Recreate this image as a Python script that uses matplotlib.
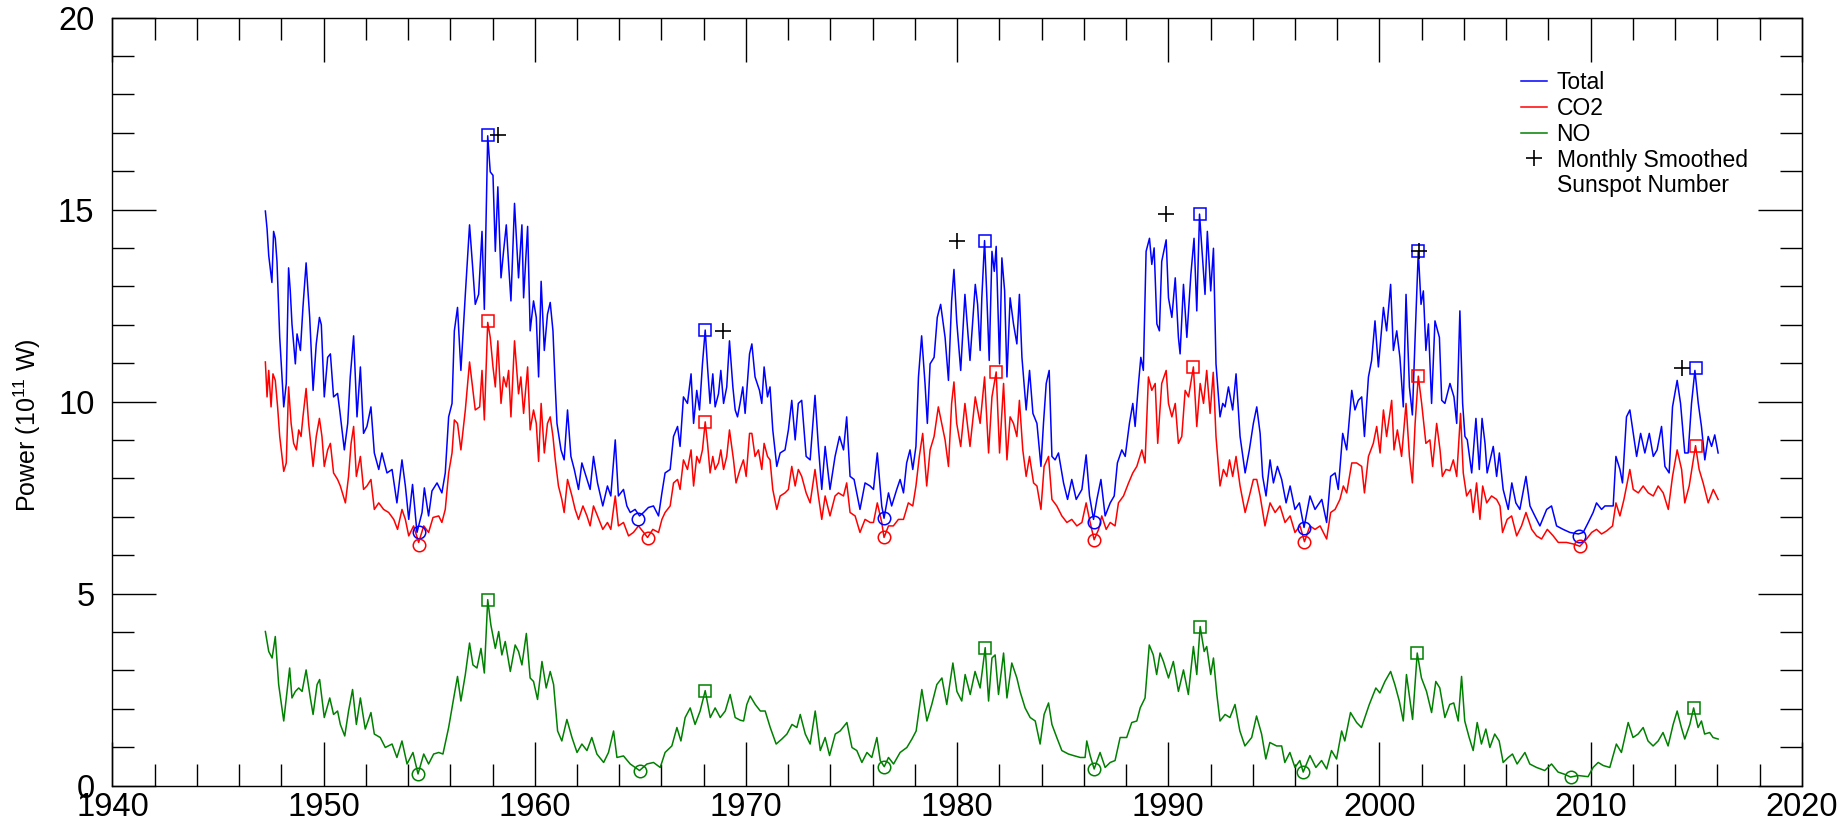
import numpy as np
import matplotlib.pyplot as plt
from matplotlib.lines import Line2D
from matplotlib.ticker import MultipleLocator

plt.rcParams['font.family'] = ['Liberation Sans', 'DejaVu Sans']
plt.rcParams['mathtext.default'] = 'regular'

# (year, power in 1e11 W)
total = np.array([
    [1947.24, 14.96], [1947.32, 14.50], [1947.40, 13.80], [1947.55, 13.10], [1947.63, 14.43],
    [1947.71, 14.25], [1947.79, 13.65], [1947.92, 11.67], [1948.11, 9.86], [1948.23, 10.47],
    [1948.34, 13.48], [1948.42, 12.88], [1948.50, 12.02], [1948.66, 10.98], [1948.74, 11.76],
    [1948.90, 11.33], [1949.02, 12.45], [1949.17, 13.61], [1949.34, 12.19], [1949.50, 10.29],
    [1949.65, 11.50], [1949.80, 12.19], [1949.89, 12.00], [1950.03, 10.12], [1950.19, 11.15],
    [1950.32, 11.24], [1950.47, 10.12], [1950.66, 10.21], [1950.76, 9.78], [1950.98, 8.74],
    [1951.14, 9.43], [1951.26, 10.64], [1951.42, 11.71], [1951.58, 9.60], [1951.74, 10.90],
    [1951.89, 9.17], [1952.05, 9.35], [1952.24, 9.86], [1952.40, 8.66], [1952.61, 8.23],
    [1952.76, 8.66], [1953.00, 8.14], [1953.24, 8.23], [1953.47, 7.36], [1953.71, 8.48],
    [1953.87, 7.80], [1954.03, 6.93], [1954.21, 7.84], [1954.42, 6.59], [1954.66, 7.11],
    [1954.77, 7.75], [1954.97, 7.02], [1955.13, 7.67], [1955.37, 7.88], [1955.60, 7.62],
    [1955.76, 8.14], [1955.92, 9.60], [1956.08, 9.95], [1956.19, 11.84], [1956.34, 12.45],
    [1956.50, 10.81], [1956.71, 12.79], [1956.91, 14.60], [1957.07, 13.40], [1957.18, 12.53],
    [1957.34, 12.79], [1957.50, 14.43], [1957.61, 12.40], [1957.77, 16.92], [1957.89, 15.98],
    [1958.02, 15.89], [1958.13, 13.91], [1958.25, 15.59], [1958.40, 13.22], [1958.52, 13.91],
    [1958.65, 14.60], [1958.76, 13.57], [1958.87, 12.62], [1959.04, 15.16], [1959.23, 13.22],
    [1959.39, 14.60], [1959.47, 12.70], [1959.66, 14.56], [1959.78, 11.84], [1959.94, 12.62],
    [1960.07, 12.19], [1960.18, 10.64], [1960.30, 13.13], [1960.45, 11.33], [1960.60, 12.27],
    [1960.73, 12.58], [1960.86, 11.84], [1960.97, 10.38], [1961.05, 9.43], [1961.24, 8.74],
    [1961.39, 8.48], [1961.55, 9.78], [1961.71, 8.57], [1961.87, 8.23], [1962.07, 7.71],
    [1962.23, 8.40], [1962.47, 7.97], [1962.62, 7.71], [1962.78, 8.57], [1962.97, 7.88],
    [1963.22, 7.28], [1963.44, 7.80], [1963.60, 7.54], [1963.81, 9.00], [1963.96, 7.54],
    [1964.20, 7.71], [1964.36, 7.28], [1964.52, 7.11], [1964.75, 7.19], [1964.96, 7.02],
    [1965.15, 7.11], [1965.38, 7.24], [1965.62, 7.28], [1965.86, 7.02], [1966.02, 7.62],
    [1966.17, 8.14], [1966.41, 8.23], [1966.57, 9.09], [1966.76, 9.35], [1966.88, 8.83],
    [1967.04, 10.12], [1967.23, 9.95], [1967.40, 10.72], [1967.52, 9.43], [1967.67, 10.29],
    [1967.80, 9.78], [1967.94, 10.98], [1968.07, 11.86], [1968.18, 10.90], [1968.30, 9.95],
    [1968.43, 10.72], [1968.54, 9.86], [1968.70, 10.20], [1968.81, 10.81], [1968.94, 9.95],
    [1969.09, 10.38], [1969.22, 11.58], [1969.38, 10.38], [1969.49, 9.78], [1969.60, 9.60],
    [1969.72, 9.95], [1969.85, 10.38], [1969.96, 9.69], [1970.17, 11.24], [1970.28, 11.50],
    [1970.43, 10.64], [1970.64, 10.29], [1970.75, 9.95], [1970.86, 10.90], [1971.02, 10.12],
    [1971.14, 10.38], [1971.27, 9.26], [1971.46, 8.31], [1971.62, 8.66], [1971.85, 8.74],
    [1972.01, 9.26], [1972.17, 10.03], [1972.33, 9.00], [1972.48, 9.95], [1972.64, 10.03],
    [1972.85, 8.57], [1973.04, 8.48], [1973.27, 10.16], [1973.43, 8.83], [1973.59, 7.71],
    [1973.75, 8.83], [1973.98, 7.71], [1974.22, 8.57], [1974.43, 9.09], [1974.62, 8.74],
    [1974.77, 9.60], [1974.93, 8.05], [1975.12, 7.97], [1975.40, 7.19], [1975.64, 7.88],
    [1975.88, 7.80], [1976.04, 7.71], [1976.22, 8.66], [1976.43, 7.28], [1976.54, 6.96],
    [1976.75, 7.62], [1976.90, 7.28], [1977.14, 7.71], [1977.30, 7.97], [1977.46, 7.62],
    [1977.61, 8.40], [1977.77, 8.74], [1977.90, 8.23], [1978.05, 8.83], [1978.17, 10.64],
    [1978.32, 11.71], [1978.48, 10.47], [1978.59, 9.43], [1978.72, 10.98], [1978.91, 11.15],
    [1979.06, 12.19], [1979.22, 12.53], [1979.43, 11.67], [1979.59, 10.55], [1979.74, 12.62],
    [1979.85, 13.44], [1979.98, 12.10], [1980.17, 10.81], [1980.37, 12.79], [1980.61, 11.07],
    [1980.86, 13.05], [1980.97, 12.53], [1981.09, 11.33], [1981.17, 12.70], [1981.30, 14.19],
    [1981.41, 12.70], [1981.52, 11.07], [1981.65, 13.91], [1981.76, 13.39], [1981.85, 14.04],
    [1982.01, 10.98], [1982.12, 13.74], [1982.25, 12.88], [1982.36, 10.64], [1982.51, 12.70],
    [1982.67, 12.02], [1982.83, 11.50], [1982.95, 12.79], [1983.07, 11.15], [1983.27, 9.78],
    [1983.43, 10.81], [1983.59, 9.69], [1983.78, 9.43], [1983.97, 8.31], [1984.09, 9.43],
    [1984.22, 10.47], [1984.36, 10.81], [1984.49, 8.57], [1984.64, 8.48], [1984.80, 8.66],
    [1985.04, 7.88], [1985.23, 7.45], [1985.43, 7.97], [1985.64, 7.45], [1985.91, 7.71],
    [1986.11, 8.61], [1986.27, 7.54], [1986.46, 6.93], [1986.62, 7.45], [1986.81, 7.97],
    [1987.01, 7.02], [1987.25, 7.36], [1987.44, 7.54], [1987.59, 8.40], [1987.80, 8.74],
    [1987.96, 8.57], [1988.16, 9.43], [1988.32, 9.95], [1988.43, 9.35], [1988.59, 10.47],
    [1988.70, 11.15], [1988.82, 10.81], [1988.95, 13.91], [1989.11, 14.25], [1989.22, 13.57],
    [1989.33, 14.00], [1989.46, 12.02], [1989.58, 11.84], [1989.69, 13.65], [1989.90, 14.21],
    [1990.01, 12.70], [1990.17, 12.19], [1990.33, 13.22], [1990.48, 11.67], [1990.56, 11.24],
    [1990.72, 13.05], [1990.88, 11.67], [1991.07, 13.31], [1991.22, 14.25], [1991.35, 12.36],
    [1991.48, 14.88], [1991.62, 13.74], [1991.74, 12.79], [1991.85, 14.43], [1992.01, 12.88],
    [1992.14, 13.99], [1992.26, 10.98], [1992.45, 9.60], [1992.58, 9.95], [1992.69, 9.86],
    [1992.85, 10.38], [1993.05, 9.78], [1993.21, 10.72], [1993.40, 9.09], [1993.64, 8.14],
    [1993.84, 8.74], [1994.03, 9.43], [1994.19, 9.86], [1994.35, 9.17], [1994.47, 8.05],
    [1994.63, 7.54], [1994.82, 8.48], [1994.98, 7.88], [1995.17, 8.31], [1995.37, 7.97],
    [1995.58, 7.36], [1995.77, 7.80], [1996.00, 7.19], [1996.21, 7.36], [1996.43, 6.72],
    [1996.71, 7.54], [1996.95, 7.19], [1997.27, 7.45], [1997.50, 6.85], [1997.69, 8.05],
    [1997.90, 8.14], [1998.05, 7.71], [1998.26, 9.17], [1998.45, 8.74], [1998.69, 10.29],
    [1998.84, 9.78], [1999.00, 10.03], [1999.16, 10.12], [1999.29, 9.09], [1999.48, 10.64],
    [1999.63, 11.07], [1999.79, 12.10], [1999.95, 10.90], [2000.19, 12.45], [2000.34, 11.84],
    [2000.53, 13.05], [2000.66, 11.33], [2000.82, 11.84], [2000.97, 11.15], [2001.13, 9.86],
    [2001.26, 12.79], [2001.42, 10.38], [2001.56, 9.65], [2001.69, 11.67], [2001.84, 13.91],
    [2001.97, 12.53], [2002.08, 12.88], [2002.20, 11.33], [2002.32, 12.02], [2002.47, 9.95],
    [2002.63, 12.10], [2002.84, 11.67], [2002.95, 10.03], [2003.10, 9.95], [2003.34, 10.47],
    [2003.53, 10.12], [2003.66, 9.43], [2003.81, 12.36], [2003.94, 9.95], [2004.05, 9.09],
    [2004.16, 9.00], [2004.37, 8.14], [2004.57, 9.56], [2004.73, 8.23], [2004.86, 9.56],
    [2005.00, 8.91], [2005.10, 8.14], [2005.39, 8.83], [2005.55, 8.05], [2005.68, 8.66],
    [2005.86, 7.71], [2006.10, 7.19], [2006.27, 7.88], [2006.46, 7.36], [2006.65, 7.19],
    [2006.94, 8.05], [2007.13, 7.28], [2007.36, 7.02], [2007.60, 6.76], [2007.92, 7.19],
    [2008.15, 7.28], [2008.39, 6.76], [2008.70, 6.67], [2009.02, 6.59], [2009.42, 6.55],
    [2009.65, 6.59], [2009.89, 6.85], [2010.12, 7.11], [2010.28, 7.36], [2010.52, 7.19],
    [2010.68, 7.28], [2010.91, 7.28], [2011.07, 7.28], [2011.20, 8.57], [2011.39, 8.23],
    [2011.51, 7.88], [2011.70, 9.60], [2011.86, 9.78], [2012.02, 9.17], [2012.18, 8.57],
    [2012.37, 9.17], [2012.57, 8.66], [2012.78, 9.17], [2012.97, 8.57], [2013.15, 8.74],
    [2013.36, 9.35], [2013.52, 8.31], [2013.72, 8.14], [2013.88, 9.86], [2014.10, 10.55],
    [2014.26, 9.95], [2014.46, 8.66], [2014.62, 8.66], [2014.78, 9.95], [2014.94, 10.81],
    [2015.10, 9.95], [2015.25, 9.35], [2015.41, 8.48], [2015.57, 9.09], [2015.73, 8.83],
    [2015.88, 9.13], [2016.04, 8.66],
])

co2 = np.array([
    [1947.24, 11.03], [1947.32, 10.12], [1947.40, 10.81], [1947.51, 9.86], [1947.60, 10.72],
    [1947.71, 10.55], [1947.82, 9.86], [1947.92, 9.09], [1948.11, 8.18], [1948.23, 8.40],
    [1948.34, 10.38], [1948.46, 9.43], [1948.58, 8.91], [1948.71, 8.74], [1948.82, 9.26],
    [1948.93, 9.09], [1949.02, 9.60], [1949.17, 10.34], [1949.29, 9.43], [1949.50, 8.31],
    [1949.65, 9.09], [1949.80, 9.56], [1949.92, 9.09], [1950.03, 8.31], [1950.19, 8.74],
    [1950.32, 8.91], [1950.47, 8.14], [1950.66, 7.97], [1950.79, 7.80], [1951.03, 7.36],
    [1951.18, 8.05], [1951.30, 8.91], [1951.42, 9.35], [1951.55, 8.05], [1951.74, 8.57],
    [1951.89, 7.71], [1952.05, 7.80], [1952.24, 7.97], [1952.40, 7.19], [1952.61, 7.36],
    [1952.84, 7.19], [1953.08, 7.11], [1953.32, 6.93], [1953.50, 6.67], [1953.71, 7.19],
    [1953.87, 6.93], [1954.03, 6.50], [1954.26, 6.76], [1954.50, 6.33], [1954.74, 6.76],
    [1954.97, 6.59], [1955.18, 6.98], [1955.45, 7.02], [1955.60, 6.85], [1955.76, 7.19],
    [1955.92, 8.14], [1956.08, 8.66], [1956.19, 9.52], [1956.34, 9.43], [1956.50, 8.74],
    [1956.71, 9.78], [1956.91, 11.03], [1957.07, 10.29], [1957.18, 9.78], [1957.39, 9.86],
    [1957.50, 10.81], [1957.61, 9.52], [1957.77, 12.06], [1957.89, 11.67], [1958.02, 10.90],
    [1958.13, 10.38], [1958.25, 11.58], [1958.40, 9.95], [1958.52, 10.64], [1958.65, 10.38],
    [1958.76, 10.81], [1958.87, 9.60], [1959.04, 11.58], [1959.23, 10.20], [1959.34, 10.64],
    [1959.47, 9.69], [1959.66, 10.90], [1959.78, 9.26], [1959.94, 9.78], [1960.07, 9.43],
    [1960.18, 8.44], [1960.30, 9.95], [1960.45, 8.66], [1960.60, 9.43], [1960.73, 9.60],
    [1960.86, 9.09], [1960.97, 8.48], [1961.12, 7.80], [1961.28, 7.45], [1961.39, 7.11],
    [1961.55, 7.97], [1961.76, 7.54], [1961.91, 7.19], [1962.07, 6.93], [1962.28, 7.28],
    [1962.47, 7.02], [1962.62, 6.76], [1962.78, 7.28], [1962.97, 7.02], [1963.22, 6.67],
    [1963.44, 6.85], [1963.60, 6.67], [1963.81, 7.54], [1963.96, 6.76], [1964.20, 6.85],
    [1964.44, 6.50], [1964.67, 6.59], [1964.91, 6.76], [1965.15, 6.59], [1965.34, 6.46],
    [1965.59, 6.67], [1965.86, 6.59], [1966.02, 6.93], [1966.17, 7.11], [1966.41, 7.28],
    [1966.57, 7.88], [1966.76, 7.97], [1966.88, 7.71], [1967.04, 8.48], [1967.23, 8.23],
    [1967.40, 8.74], [1967.52, 7.80], [1967.67, 8.57], [1967.80, 8.40], [1967.94, 8.74],
    [1968.07, 9.47], [1968.18, 8.91], [1968.30, 8.14], [1968.43, 8.57], [1968.54, 8.23],
    [1968.70, 8.40], [1968.81, 8.74], [1968.94, 8.23], [1969.09, 8.57], [1969.22, 9.26],
    [1969.41, 8.48], [1969.53, 7.88], [1969.72, 8.23], [1969.88, 8.48], [1970.01, 8.05],
    [1970.17, 9.17], [1970.28, 9.17], [1970.43, 8.57], [1970.59, 8.74], [1970.75, 8.23],
    [1970.86, 8.91], [1971.02, 8.57], [1971.14, 8.48], [1971.27, 7.71], [1971.46, 7.19],
    [1971.62, 7.54], [1971.85, 7.62], [1972.01, 7.71], [1972.17, 8.31], [1972.33, 7.80],
    [1972.48, 8.23], [1972.64, 8.05], [1972.85, 7.62], [1973.04, 7.36], [1973.27, 8.23],
    [1973.43, 7.54], [1973.59, 6.93], [1973.75, 7.54], [1973.98, 7.02], [1974.22, 7.54],
    [1974.38, 7.62], [1974.62, 7.54], [1974.77, 7.88], [1974.93, 7.11], [1975.17, 7.02],
    [1975.40, 6.59], [1975.64, 6.93], [1975.88, 6.85], [1976.04, 6.85], [1976.22, 7.36],
    [1976.43, 6.85], [1976.54, 6.46], [1976.75, 6.76], [1976.98, 6.76], [1977.22, 6.93],
    [1977.46, 6.93], [1977.69, 7.36], [1977.90, 7.28], [1978.05, 7.80], [1978.21, 8.57],
    [1978.37, 9.17], [1978.56, 7.80], [1978.72, 8.74], [1978.91, 9.09], [1979.11, 9.86],
    [1979.27, 9.43], [1979.43, 9.00], [1979.59, 8.31], [1979.74, 9.95], [1979.85, 10.51],
    [1979.98, 9.43], [1980.17, 8.83], [1980.37, 9.95], [1980.61, 8.83], [1980.86, 10.12],
    [1981.09, 9.43], [1981.30, 10.64], [1981.49, 8.66], [1981.65, 10.12], [1981.85, 10.77],
    [1982.01, 8.66], [1982.20, 10.47], [1982.36, 8.48], [1982.51, 9.60], [1982.67, 9.43],
    [1982.83, 9.09], [1982.95, 10.03], [1983.11, 8.74], [1983.27, 8.05], [1983.43, 8.57],
    [1983.62, 7.88], [1983.78, 7.80], [1983.97, 7.19], [1984.12, 8.31], [1984.33, 8.57],
    [1984.49, 7.45], [1984.72, 7.28], [1984.96, 7.02], [1985.20, 6.85], [1985.43, 6.93],
    [1985.67, 6.76], [1985.91, 6.85], [1986.11, 7.36], [1986.30, 6.85], [1986.49, 6.40],
    [1986.70, 6.67], [1986.85, 7.02], [1987.06, 6.67], [1987.25, 6.85], [1987.48, 6.76],
    [1987.64, 7.36], [1987.88, 7.54], [1988.12, 7.88], [1988.32, 8.14], [1988.51, 8.31],
    [1988.75, 8.74], [1988.90, 8.40], [1989.06, 10.64], [1989.22, 10.29], [1989.38, 10.47],
    [1989.50, 8.91], [1989.69, 10.47], [1989.90, 10.81], [1990.01, 9.95], [1990.17, 9.60],
    [1990.33, 9.95], [1990.48, 8.91], [1990.64, 9.09], [1990.80, 10.29], [1990.96, 10.12],
    [1991.19, 10.90], [1991.35, 9.35], [1991.51, 10.47], [1991.67, 9.95], [1991.82, 10.81],
    [1991.98, 9.69], [1992.13, 10.76], [1992.26, 9.09], [1992.45, 7.80], [1992.61, 8.23],
    [1992.77, 8.05], [1992.90, 8.48], [1993.05, 8.05], [1993.21, 8.57], [1993.40, 7.80],
    [1993.64, 7.11], [1993.84, 7.54], [1994.03, 7.97], [1994.19, 7.97], [1994.35, 7.54],
    [1994.58, 6.76], [1994.82, 7.36], [1995.06, 7.11], [1995.29, 7.28], [1995.53, 6.85],
    [1995.77, 7.02], [1996.00, 6.59], [1996.24, 6.76], [1996.45, 6.35], [1996.71, 6.76],
    [1996.95, 6.67], [1997.19, 6.76], [1997.50, 6.42], [1997.69, 7.11], [1997.90, 7.19],
    [1998.13, 7.45], [1998.29, 7.80], [1998.45, 7.62], [1998.69, 8.40], [1998.92, 8.40],
    [1999.16, 8.31], [1999.29, 7.62], [1999.48, 8.57], [1999.71, 8.91], [1999.87, 9.35],
    [2000.03, 8.66], [2000.19, 9.78], [2000.34, 9.09], [2000.58, 10.03], [2000.69, 8.74],
    [2000.85, 9.26], [2001.05, 8.57], [2001.26, 9.95], [2001.42, 8.57], [2001.56, 7.88],
    [2001.69, 9.43], [2001.84, 10.66], [2002.00, 9.95], [2002.20, 8.91], [2002.39, 9.00],
    [2002.52, 8.31], [2002.71, 9.43], [2002.87, 8.74], [2002.98, 8.05], [2003.15, 8.23],
    [2003.34, 8.20], [2003.50, 8.48], [2003.66, 8.05], [2003.84, 9.69], [2003.97, 8.14],
    [2004.13, 7.54], [2004.32, 7.71], [2004.44, 7.11], [2004.60, 7.88], [2004.76, 6.93],
    [2004.89, 7.80], [2005.08, 7.36], [2005.31, 7.54], [2005.55, 7.45], [2005.71, 7.28],
    [2005.83, 6.59], [2006.05, 6.93], [2006.26, 7.02], [2006.50, 6.50], [2006.73, 6.76],
    [2006.94, 7.11], [2007.21, 6.67], [2007.44, 6.50], [2007.68, 6.42], [2007.95, 6.67],
    [2008.23, 6.50], [2008.47, 6.33], [2008.86, 6.33], [2009.18, 6.29], [2009.49, 6.23],
    [2009.81, 6.42], [2010.05, 6.59], [2010.28, 6.67], [2010.52, 6.55], [2010.76, 6.63],
    [2011.04, 6.76], [2011.20, 7.36], [2011.39, 7.02], [2011.58, 7.45], [2011.86, 8.23],
    [2012.02, 7.71], [2012.26, 7.62], [2012.49, 7.80], [2012.73, 7.62], [2012.97, 7.54],
    [2013.20, 7.80], [2013.44, 7.62], [2013.68, 7.19], [2013.88, 8.05], [2014.10, 8.74],
    [2014.31, 8.23], [2014.46, 7.36], [2014.67, 7.80], [2014.97, 8.85], [2015.14, 8.23],
    [2015.33, 7.88], [2015.57, 7.36], [2015.81, 7.71], [2016.04, 7.45],
])

no = np.array([
    [1947.24, 4.01], [1947.40, 3.49], [1947.56, 3.32], [1947.71, 3.88], [1947.87, 2.63],
    [1948.11, 1.68], [1948.39, 3.06], [1948.50, 2.28], [1948.66, 2.45], [1948.82, 2.54],
    [1948.98, 2.45], [1949.17, 3.01], [1949.37, 2.28], [1949.50, 1.85], [1949.69, 2.63],
    [1949.81, 2.76], [1950.03, 1.77], [1950.29, 2.28], [1950.47, 1.85], [1950.66, 1.94],
    [1950.79, 1.59], [1951.00, 1.29], [1951.18, 1.94], [1951.37, 2.50], [1951.55, 1.59],
    [1951.74, 2.28], [1951.97, 1.47], [1952.24, 1.90], [1952.40, 1.34], [1952.68, 1.25],
    [1952.92, 0.99], [1953.24, 1.08], [1953.47, 0.73], [1953.71, 1.16], [1953.95, 0.56],
    [1954.23, 0.86], [1954.47, 0.30], [1954.74, 0.82], [1954.97, 0.56], [1955.21, 0.82],
    [1955.45, 0.86], [1955.65, 0.82], [1955.92, 1.51], [1956.16, 2.28], [1956.34, 2.84],
    [1956.50, 2.20], [1956.71, 2.89], [1956.91, 3.71], [1957.07, 3.14], [1957.26, 3.06],
    [1957.45, 3.57], [1957.61, 2.93], [1957.77, 4.84], [1957.92, 4.18], [1958.13, 3.57],
    [1958.29, 4.01], [1958.44, 3.40], [1958.60, 3.75], [1958.84, 2.97], [1959.07, 3.66],
    [1959.23, 3.49], [1959.39, 3.14], [1959.60, 3.96], [1959.78, 2.80], [1959.94, 2.71],
    [1960.13, 2.24], [1960.34, 3.23], [1960.54, 2.54], [1960.73, 2.97], [1960.89, 2.63],
    [1961.08, 1.42], [1961.28, 1.16], [1961.52, 1.72], [1961.76, 1.25], [1962.00, 0.86],
    [1962.23, 1.08], [1962.47, 0.91], [1962.70, 1.25], [1962.94, 0.82], [1963.26, 0.60],
    [1963.49, 0.86], [1963.73, 1.42], [1963.89, 0.73], [1964.20, 0.77], [1964.52, 0.56],
    [1964.96, 0.39], [1965.31, 0.56], [1965.62, 0.60], [1965.94, 0.47], [1966.17, 0.86],
    [1966.49, 1.03], [1966.73, 1.51], [1966.92, 1.16], [1967.12, 1.77], [1967.36, 2.02],
    [1967.59, 1.59], [1967.83, 1.94], [1968.07, 2.47], [1968.31, 1.77], [1968.54, 2.02],
    [1968.78, 1.77], [1969.02, 1.94], [1969.25, 2.37], [1969.49, 1.77], [1969.73, 1.70],
    [1969.89, 1.68], [1970.04, 2.11], [1970.20, 2.33], [1970.44, 2.11], [1970.68, 1.94],
    [1970.91, 1.94], [1971.15, 1.51], [1971.43, 1.08], [1971.70, 1.21], [1971.94, 1.34],
    [1972.18, 1.59], [1972.41, 1.51], [1972.57, 1.85], [1972.81, 1.34], [1973.04, 1.08],
    [1973.28, 1.94], [1973.52, 0.91], [1973.75, 1.25], [1973.96, 0.78], [1974.23, 1.34],
    [1974.46, 1.42], [1974.78, 1.64], [1975.02, 0.99], [1975.25, 0.91], [1975.49, 0.60],
    [1975.73, 0.86], [1975.96, 0.73], [1976.20, 1.25], [1976.36, 0.65], [1976.55, 0.49],
    [1976.75, 0.73], [1976.99, 0.56], [1977.30, 0.86], [1977.62, 0.99], [1977.86, 1.21],
    [1978.06, 1.42], [1978.33, 2.50], [1978.57, 1.68], [1978.80, 2.11], [1979.04, 2.63],
    [1979.28, 2.80], [1979.51, 2.11], [1979.80, 3.19], [1979.99, 2.45], [1980.22, 2.20],
    [1980.38, 2.89], [1980.62, 2.37], [1980.85, 2.97], [1981.09, 2.54], [1981.33, 3.59],
    [1981.49, 2.20], [1981.65, 3.32], [1981.80, 3.40], [1981.96, 2.37], [1982.20, 3.45],
    [1982.36, 2.28], [1982.59, 3.19], [1982.83, 2.80], [1982.98, 2.45], [1983.22, 2.02],
    [1983.46, 1.77], [1983.70, 1.68], [1983.93, 1.08], [1984.12, 1.85], [1984.33, 2.15],
    [1984.49, 1.59], [1984.72, 1.25], [1984.96, 0.91], [1985.27, 0.82], [1985.51, 0.78],
    [1985.83, 0.73], [1986.06, 0.73], [1986.14, 1.16], [1986.30, 0.78], [1986.49, 0.43],
    [1986.77, 0.86], [1987.01, 0.47], [1987.25, 0.60], [1987.48, 0.65], [1987.72, 1.25],
    [1988.03, 1.25], [1988.27, 1.64], [1988.51, 1.68], [1988.67, 2.02], [1988.90, 2.28],
    [1989.10, 3.66], [1989.29, 3.40], [1989.45, 2.89], [1989.61, 3.45], [1989.77, 3.23],
    [1990.01, 2.80], [1990.24, 3.23], [1990.48, 2.45], [1990.72, 3.01], [1990.95, 2.37],
    [1991.19, 3.62], [1991.35, 2.89], [1991.51, 4.14], [1991.70, 3.49], [1991.82, 3.62],
    [1992.01, 2.89], [1992.14, 3.32], [1992.30, 2.37], [1992.45, 1.68], [1992.69, 1.85],
    [1992.92, 1.77], [1993.16, 2.11], [1993.39, 1.42], [1993.63, 1.03], [1993.95, 1.25],
    [1994.18, 1.81], [1994.42, 1.34], [1994.62, 0.69], [1994.81, 1.12], [1995.13, 1.03],
    [1995.37, 1.03], [1995.52, 0.60], [1995.76, 0.86], [1996.00, 0.47], [1996.23, 0.65],
    [1996.39, 0.35], [1996.71, 0.78], [1996.99, 0.47], [1997.26, 0.65], [1997.50, 0.43],
    [1997.73, 0.91], [1997.97, 0.69], [1998.21, 1.42], [1998.36, 1.16], [1998.63, 1.90],
    [1998.92, 1.64], [1999.15, 1.51], [1999.31, 1.77], [1999.52, 2.11], [1999.83, 2.54],
    [2000.02, 2.41], [2000.26, 2.71], [2000.53, 2.97], [2000.73, 2.63], [2000.94, 2.20],
    [2001.13, 1.68], [2001.28, 2.89], [2001.57, 1.72], [2001.79, 3.45], [2001.99, 2.80],
    [2002.23, 2.45], [2002.47, 1.90], [2002.67, 2.71], [2002.86, 2.54], [2003.10, 1.77],
    [2003.33, 2.11], [2003.52, 2.15], [2003.73, 1.68], [2003.89, 2.84], [2004.04, 1.68],
    [2004.25, 1.25], [2004.44, 0.91], [2004.63, 1.64], [2004.83, 1.08], [2005.04, 1.47],
    [2005.23, 0.99], [2005.46, 1.34], [2005.67, 1.16], [2005.86, 0.60], [2006.10, 0.73],
    [2006.30, 0.82], [2006.52, 0.56], [2006.89, 0.86], [2007.12, 0.56], [2007.44, 0.47],
    [2007.83, 0.39], [2008.15, 0.56], [2008.46, 0.35], [2008.78, 0.29], [2009.05, 0.22],
    [2009.41, 0.26], [2009.88, 0.23], [2010.12, 0.47], [2010.36, 0.60], [2010.60, 0.52],
    [2010.91, 0.47], [2011.22, 1.08], [2011.46, 0.86], [2011.78, 1.64], [2012.01, 1.25],
    [2012.25, 1.34], [2012.49, 1.51], [2012.72, 1.16], [2012.96, 1.03], [2013.20, 1.16],
    [2013.43, 1.38], [2013.67, 1.03], [2013.91, 1.59], [2014.10, 1.94], [2014.30, 1.51],
    [2014.46, 1.21], [2014.70, 1.59], [2014.88, 2.02], [2015.09, 1.51], [2015.25, 1.68],
    [2015.40, 1.34], [2015.64, 1.38], [2015.80, 1.25], [2016.04, 1.21],
])

# cycle maxima (squares) and minima (circles)
max_years = [1957.77, 1968.07, 1981.30, 1991.48, 2001.84, 2014.97]
total_max = [16.94, 11.86, 14.19, 14.88, 13.91, 10.88]
co2_max_years = [1957.77, 1968.07, 1981.85, 1991.19, 2001.84, 2014.97]
co2_max = [12.10, 9.47, 10.77, 10.90, 10.66, 8.85]
no_max_years = [1957.77, 1968.07, 1981.33, 1991.51, 2001.79, 2014.88]
no_max = [4.84, 2.47, 3.59, 4.14, 3.45, 2.02]

min_years = [1954.50, 1964.91, 1976.54, 1986.49, 1996.43, 2009.46]
total_min = [6.59, 6.93, 6.96, 6.85, 6.70, 6.50]
co2_min_years = [1954.50, 1965.34, 1976.54, 1986.49, 1996.45, 2009.49]
co2_min = [6.26, 6.44, 6.46, 6.40, 6.35, 6.23]
no_min_years = [1954.47, 1964.96, 1976.55, 1986.49, 1996.39, 2009.05]
no_min = [0.30, 0.39, 0.49, 0.43, 0.35, 0.22]

# smoothed sunspot number maxima, drawn at the Total peak level
ssn_years = [1958.24, 1968.89, 1979.98, 1989.90, 2001.87, 2014.31]
ssn_vals = [16.94, 11.84, 14.17, 14.87, 13.91, 10.87]

BLUE, RED, GREEN = '#0000ff', '#ff0000', '#008000'

fig = plt.figure(figsize=(18.47, 8.22), dpi=100)
ax = fig.add_axes([0.0609, 0.0444, 0.9146, 0.9343])

ax.plot(total[:, 0], total[:, 1], color=BLUE, lw=1.1)
ax.plot(co2[:, 0], co2[:, 1], color=RED, lw=1.1)
ax.plot(no[:, 0], no[:, 1], color=GREEN, lw=1.1)

mk = dict(ls='none', mfc='none', ms=9, mew=1.1)
ax.plot(max_years, total_max, 's', mec=BLUE, **mk)
ax.plot(co2_max_years, co2_max, 's', mec=RED, **mk)
ax.plot(no_max_years, no_max, 's', mec=GREEN, **mk)
ax.plot(min_years, total_min, 'o', mec=BLUE, **mk)
ax.plot(co2_min_years, co2_min, 'o', mec=RED, **mk)
ax.plot(no_min_years, no_min, 'o', mec=GREEN, **mk)
ax.plot(ssn_years, ssn_vals, '+', color='black', ms=12, mew=1.2, ls='none')

ax.set_xlim(1940, 2020)
ax.set_ylim(0, 20)
ax.xaxis.set_major_locator(MultipleLocator(10))
ax.xaxis.set_minor_locator(MultipleLocator(2))
ax.yaxis.set_major_locator(MultipleLocator(5))
ax.yaxis.set_minor_locator(MultipleLocator(1))
ax.tick_params(which='both', direction='in', top=True, right=True, width=1.0, labelsize=23.5)
ax.tick_params(which='major', length=32)
ax.tick_params(which='minor', length=16)
ax.tick_params(axis='x', pad=5)
ax.tick_params(axis='y', pad=13)
for s in ax.spines.values():
    s.set_linewidth(1.0)

ax.set_ylabel('Power (10$^{11}$ W)', fontsize=18)
ax.yaxis.set_label_coords(-0.041, 0.469)

# legend: the sunspot entry is split over two rows so the "+" sits on the first line
handles = [Line2D([], [], color=BLUE, lw=1.1),
           Line2D([], [], color=RED, lw=1.1),
           Line2D([], [], color=GREEN, lw=1.1),
           Line2D([], [], ls='none', marker='+', color='black', ms=12, mew=1.2),
           Line2D([], [], ls='none')]
labels = ['Total', 'CO2', 'NO', 'Monthly Smoothed', 'Sunspot Number']
leg = ax.legend(handles, labels, loc='upper left', bbox_to_anchor=(0.834, 0.93),
                frameon=False, fontsize=16.5, handlelength=1.1, handletextpad=0.44,
                labelspacing=0.12, borderpad=0, borderaxespad=0)

plt.savefig('out.png', dpi=100)
